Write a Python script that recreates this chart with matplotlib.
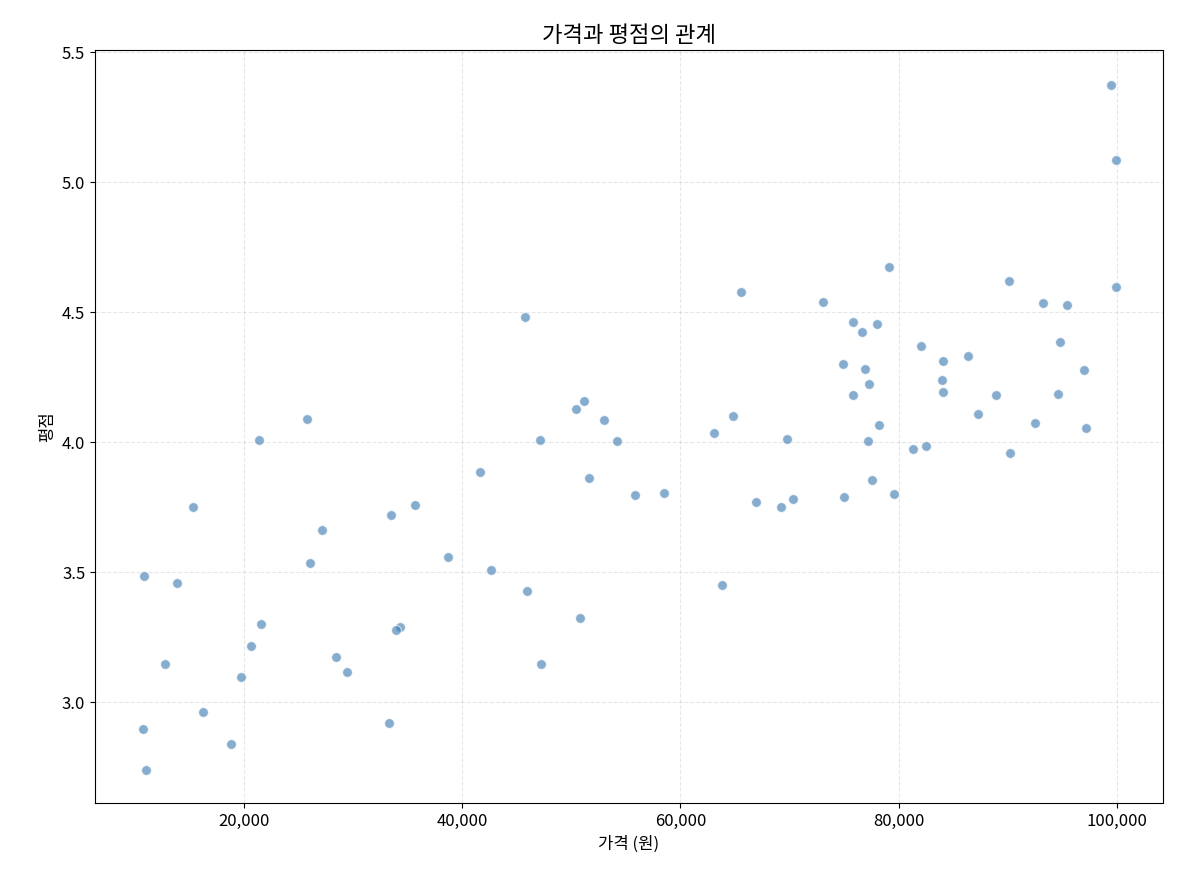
import matplotlib
matplotlib.use("Agg")
import matplotlib.pyplot as plt
from matplotlib.ticker import FuncFormatter

plt.rcParams['font.family'] = ['Noto Sans CJK KR', 'DejaVu Sans']
plt.rcParams['axes.unicode_minus'] = False

# price (원) and rating
price = [99450, 99910, 79110, 90100, 99910, 65545, 73060, 93220, 95420, 45750,
         75810, 78010, 76630, 82040, 94780, 86330, 84060, 74900, 76910, 96990,
         77270, 83970, 75810, 94600, 84060, 88910, 51160, 50430, 87260, 64810,
         25770, 53000, 92490, 78190, 97170, 63070, 21370, 47120, 54180, 69760,
         77180, 82500, 81310, 90200, 41630, 51620, 77550, 58490, 55830, 79570,
         74990, 70310, 66920, 69210, 15330, 35670, 33470, 27150, 38690, 26050,
         42640, 10840, 13860, 63800, 45930, 50790, 21560, 34300, 33930, 20640,
         28430, 12760, 47210, 29440, 19730, 16250, 33290, 10740, 18810, 11020]
rating = [5.373, 5.085, 4.673, 4.619, 4.596, 4.577, 4.538, 4.535, 4.527, 4.481,
          4.462, 4.454, 4.423, 4.369, 4.385, 4.331, 4.312, 4.300, 4.281, 4.277,
          4.223, 4.238, 4.181, 4.185, 4.192, 4.181, 4.158, 4.127, 4.108, 4.100,
          4.089, 4.085, 4.073, 4.065, 4.054, 4.035, 4.008, 4.008, 4.004, 4.012,
          4.004, 3.985, 3.973, 3.958, 3.885, 3.862, 3.854, 3.804, 3.796, 3.800,
          3.789, 3.781, 3.769, 3.750, 3.750, 3.758, 3.719, 3.662, 3.558, 3.535,
          3.508, 3.485, 3.458, 3.450, 3.427, 3.323, 3.300, 3.289, 3.277, 3.215,
          3.173, 3.146, 3.146, 3.115, 3.096, 2.962, 2.919, 2.896, 2.839, 2.739]

fig, ax = plt.subplots(figsize=(11.79, 8.84), dpi=100)
fig.subplots_adjust(left=0.0806, right=0.9864, top=0.9434, bottom=0.0916)
ax.scatter(price, rating, s=50, color='steelblue', alpha=0.65, edgecolors='white', linewidths=0.8, zorder=3)

ax.set_xlim(6350, 104220)
ax.set_ylim(2.612, 5.508)
ax.set_xticks([20000, 40000, 60000, 80000, 100000])
ax.set_yticks([3.0, 3.5, 4.0, 4.5, 5.0, 5.5])
ax.xaxis.set_major_formatter(FuncFormatter(lambda v, p: f"{int(v):,}"))
ax.tick_params(labelsize=12)
ax.grid(True, linestyle='--', alpha=0.3)

ax.set_title("가격과 평점의 관계", fontsize=16)
ax.set_xlabel("가격 (원)", fontsize=12)
ax.set_ylabel("평점", fontsize=12)

plt.savefig("out.png")
